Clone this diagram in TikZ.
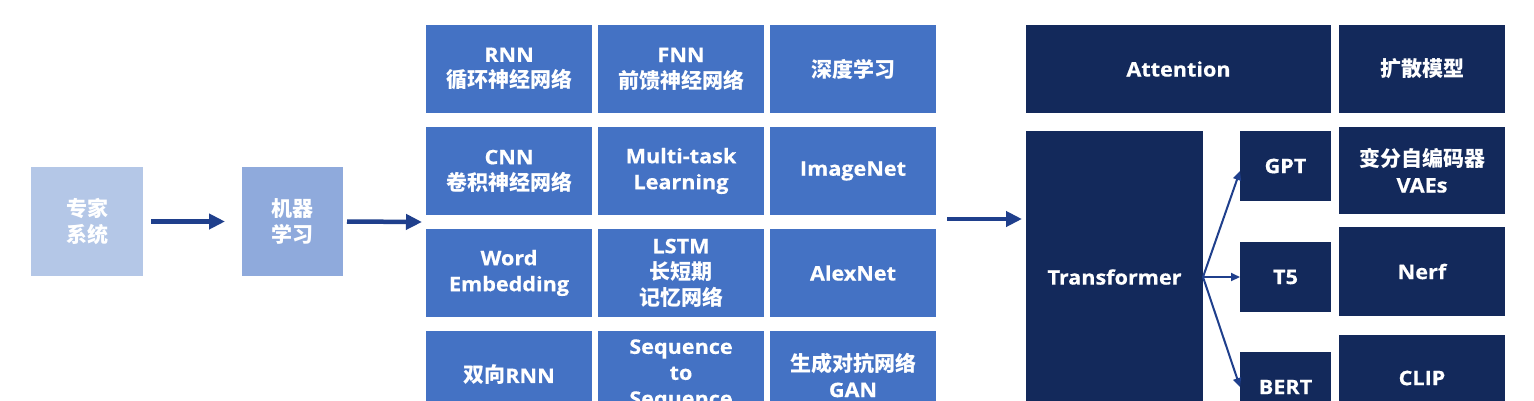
\documentclass[tikz,border=0pt]{standalone}
\usepackage{fontspec}
\setmainfont{Open Sans}[FakeStretch=1.08,BoldFeatures={FakeBold=0.5}]
\newfontfamily\cjk{Noto Sans CJK SC}[Scale=1.05]
\usetikzlibrary{arrows.meta,calc,fit}
\definecolor{cLight}{HTML}{B4C7E7}
\definecolor{cMid}{HTML}{8FAADC}
\definecolor{cGrid}{HTML}{4472C4}
\definecolor{cNavy}{HTML}{13295B}
\definecolor{cArrow}{HTML}{1F3F8C}
\begin{document}
\begin{tikzpicture}[x=1pt,y=-1pt,
  box/.style={inner sep=0pt, outer sep=0pt, text=white, align=center,
    font=\bfseries\fontsize{20}{26}\selectfont},
  gbox/.style={box, fill=cGrid, minimum width=166pt, minimum height=88pt},
  nbox/.style={box, fill=cNavy},
  thick arrow/.style={draw=cArrow, line width=4.5pt, -{Triangle[length=16pt,width=15pt]}},
  thin arrow/.style={draw=cArrow, line width=2pt, -{Triangle[length=9pt,width=8pt]}}]
\useasboundingbox (0,0) rectangle (1534,400);
\clip (0,0) rectangle (1534,400);
\fill[white] (0,0) rectangle (1534,400);
% left boxes
\node[box, fill=cLight, minimum width=112pt, minimum height=109pt] (zj) at (87,221.5) {\cjk 专家\\\cjk 系统};
\node[box, fill=cMid, minimum width=101pt, minimum height=109pt] (jq) at (292.5,221.5) {\cjk 机器\\\cjk 学习};
% grid
\node[gbox] (g11) at (509,69) {RNN\\\cjk 循环神经网络};
\node[gbox] (g12) at (681,69) {FNN\\\cjk 前馈神经网络};
\node[gbox] (g13) at (853,69) {\cjk 深度学习};
\node[gbox] (g21) at (509,171) {CNN\\\cjk 卷积神经网络};
\node[gbox] (g22) at (681,171) {Multi-task\\Learning};
\node[gbox] (g23) at (853,171) {ImageNet};
\node[gbox] (g31) at (509,273) {Word\\Embedding};
\node[gbox] (g32) at (681,273) {LSTM\\\cjk 长短期\\\cjk 记忆网络};
\node[gbox] (g33) at (853,273) {AlexNet};
\node[gbox] (g41) at (509,375) {{\cjk 双向}RNN};
\node[gbox] (g42) at (681,375) {Sequence\\to\\Sequence};
\node[gbox] (g43) at (853,375) {\cjk 生成对抗网络\\GAN};
\node[fit=(g11)(g43), inner sep=0pt, outer sep=0pt] (grid) {};
% right
\node[nbox, minimum width=305pt, minimum height=88pt] (att) at (1178.5,69) {Attention};
\node[nbox, minimum width=166pt, minimum height=88pt] (ks) at (1422,69) {\cjk 扩散模型};
\node[nbox, minimum width=177pt, minimum height=292pt] (tr) at (1114.5,277) {Transformer};
\node[nbox, minimum width=91pt, minimum height=70pt] (gpt) at (1285.5,166) {GPT};
\node[nbox, minimum width=91pt, minimum height=70pt] (t5) at (1285.5,277) {T5};
\node[nbox, minimum width=91pt, minimum height=70pt] (bert) at (1285.5,387) {BERT};
\node[nbox, minimum width=166pt, minimum height=87pt] (vae) at (1422,170.5) {\cjk 变分自编码器\\VAEs};
\node[nbox, minimum width=166pt, minimum height=89pt] (nerf) at (1422,271.5) {Nerf};
\node[nbox, minimum width=166pt, minimum height=86pt] (clip) at (1422,378) {CLIP};
% arrows
\draw[thick arrow] ([xshift=8pt]zj.east) -- ([xshift=-17pt]jq.west);
\draw[thick arrow] ([xshift=4pt]jq.east) -- ([xshift=-4pt]grid.west);
\draw[thick arrow] ($(grid.east)+(11,-3)$) -- ($(tr.west |- grid.east)+(-4,-3)$);
\draw[thin arrow] (tr.east) -- ($(gpt.west)+(0,5)$);
\draw[thin arrow] (tr.east) -- (t5.west);
\draw[thin arrow] (tr.east) -- (bert.west);
\end{tikzpicture}
\end{document}
